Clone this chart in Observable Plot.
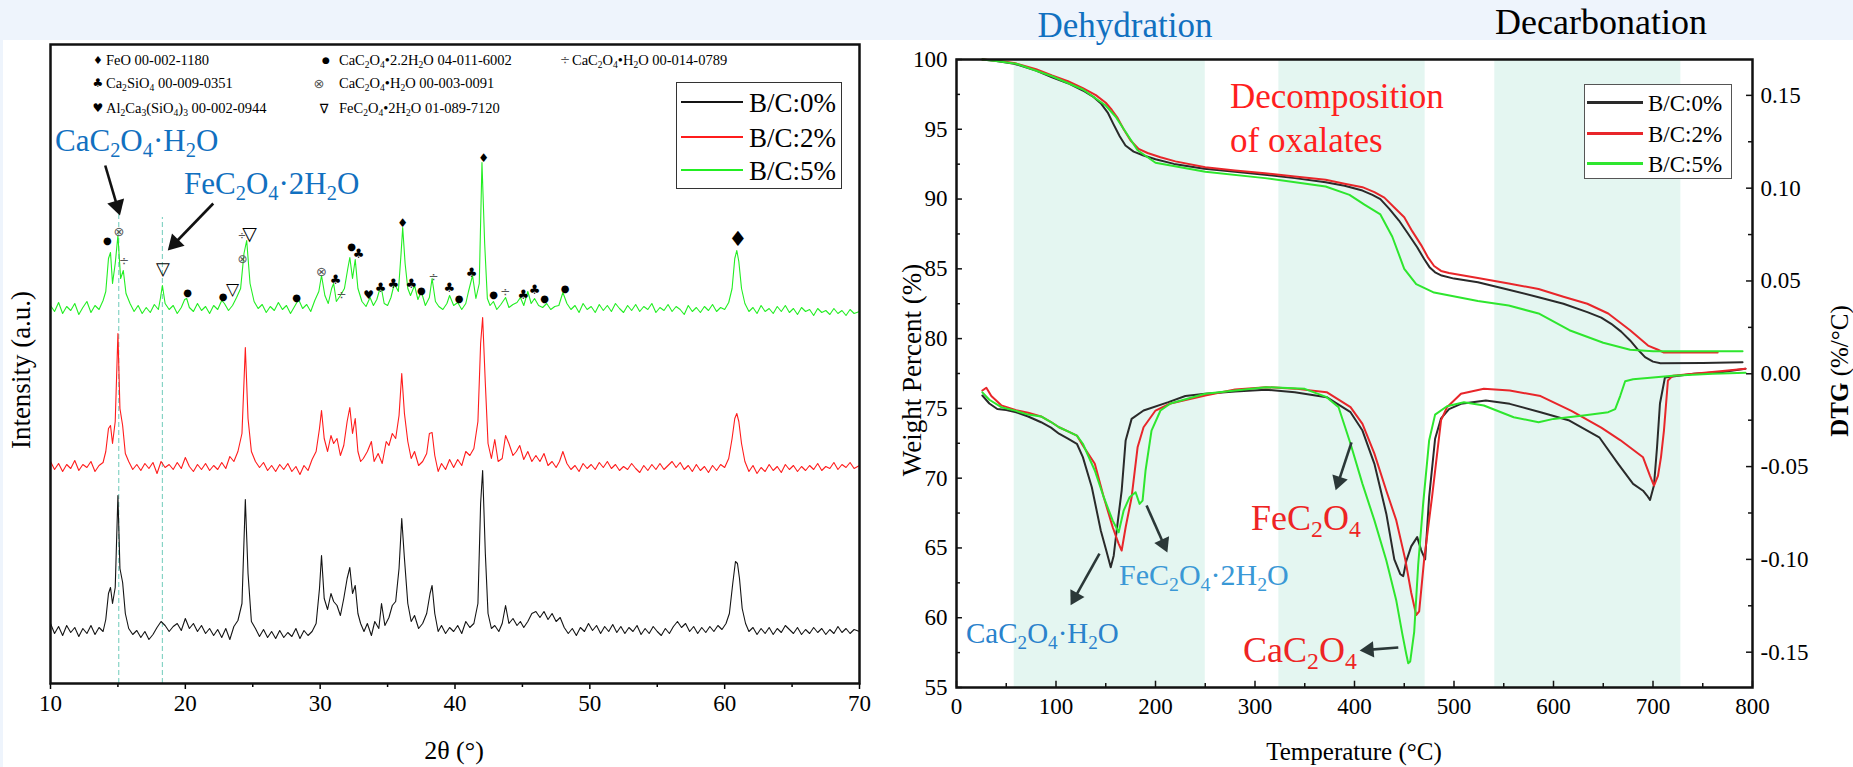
<!DOCTYPE html>
<html><head><meta charset="utf-8">
<script src="https://cdn.jsdelivr.net/npm/d3@7"></script>
<script src="https://cdn.jsdelivr.net/npm/@observablehq/plot@0.6"></script>
<style>
html,body{margin:0;padding:0}
body{width:1853px;height:767px;background:#eef4fc;position:relative;overflow:hidden;font-family:"Liberation Serif","Times New Roman",serif;color:#000}
#paper{position:absolute;left:3px;top:40px;width:1850px;height:727px;background:#fff}
.abs{position:absolute;white-space:nowrap;line-height:1}
sub{font-size:0.66em;vertical-align:baseline;position:relative;top:0.3em;line-height:0}
</style></head><body>
<div id="paper"></div>
<div id="xrd" class="abs" style="left:0;top:0;width:900px;height:767px"></div>
<div id="tga" class="abs" style="left:900px;top:0;width:953px;height:767px"></div>
<div id="over"></div>
<script>
// ---------- series ----------
const series = ["B/C:0%", "B/C:2%", "B/C:5%"];
const xrdColors = ["#141414", "#ff1c1c", "#22ee22"];
const tgaColors = ["#2a2a2a", "#e8262a", "#2ee62e"];

// ---------- XRD (2θ, intensity a.u.) ----------
const xrd5 = [[10.0,378],[10.3,372],[10.6,381],[10.9,370],[11.2,377],[11.5,373],[11.8,380],[12.1,369],[12.4,376],[12.7,382],[13.0,371],[13.3,378],[13.6,374],[13.9,383],[14.1,392],[14.3,425],[14.45,431],[14.6,400],[14.8,420],[15.0,448],[15.2,405],[15.4,413],[15.6,390],[15.9,380],[16.2,372],[16.5,378],[16.8,370],[17.1,376],[17.4,371],[17.7,379],[18.0,374],[18.15,385],[18.3,398],[18.5,380],[18.8,374],[19.1,378],[19.4,370],[19.7,376],[19.95,384],[20.1,385],[20.3,376],[20.6,372],[20.9,380],[21.2,373],[21.5,377],[21.8,370],[22.1,378],[22.4,374],[22.7,383],[22.9,380],[23.2,373],[23.5,378],[23.8,386],[24.1,395],[24.35,430],[24.55,443],[24.8,400],[25.1,382],[25.4,375],[25.7,379],[26.0,371],[26.3,377],[26.6,373],[26.9,381],[27.2,374],[27.5,378],[27.8,370],[28.1,377],[28.4,384],[28.7,375],[29.0,379],[29.3,372],[29.6,383],[29.9,392],[30.1,408],[30.35,388],[30.6,380],[30.85,395],[31.0,400],[31.2,382],[31.5,388],[31.8,395],[32.05,415],[32.2,426],[32.4,405],[32.6,424],[32.8,395],[33.1,382],[33.4,377],[33.7,386],[33.95,378],[34.2,384],[34.5,398],[34.75,380],[35.0,378],[35.25,386],[35.5,400],[35.8,392],[36.0,430],[36.12,456],[36.3,420],[36.5,395],[36.7,388],[37.0,398],[37.25,384],[37.5,392],[37.8,378],[38.1,386],[38.3,405],[38.55,382],[38.8,377],[39.1,374],[39.4,380],[39.6,388],[39.9,378],[40.2,381],[40.5,374],[40.8,380],[41.0,392],[41.3,408],[41.55,385],[41.8,400],[42.0,521],[42.2,440],[42.4,385],[42.6,378],[42.85,382],[43.1,374],[43.4,379],[43.75,386],[44.0,376],[44.3,379],[44.6,381],[44.85,386],[45.1,378],[45.4,392],[45.65,380],[45.9,385],[46.2,378],[46.5,376],[46.8,380],[47.1,374],[47.4,377],[47.7,378],[48.0,391],[48.3,380],[48.6,374],[48.9,378],[49.2,371],[49.5,380],[49.8,374],[50.1,377],[50.4,371],[50.7,379],[51.0,373],[51.3,378],[51.6,372],[51.9,380],[52.2,375],[52.5,371],[52.8,378],[53.1,373],[53.4,379],[53.7,372],[54.0,377],[54.3,374],[54.6,380],[54.9,371],[55.2,376],[55.5,373],[55.8,379],[56.1,372],[56.4,377],[56.7,374],[57.0,369],[57.3,378],[57.6,372],[57.9,376],[58.2,371],[58.5,377],[58.8,373],[59.1,379],[59.4,372],[59.7,376],[60.0,374],[60.3,381],[60.55,395],[60.75,425],[60.9,433],[61.05,422],[61.25,395],[61.5,380],[61.8,372],[62.1,376],[62.4,370],[62.7,378],[63.0,372],[63.3,375],[63.6,370],[63.9,377],[64.2,372],[64.5,378],[64.8,371],[65.1,375],[65.4,369],[65.7,376],[66.0,372],[66.3,374],[66.6,368],[66.9,375],[67.2,371],[67.5,373],[67.8,369],[68.1,375],[68.4,370],[68.7,373],[69.0,368],[69.3,374],[69.6,370],[70.0,372]];
const xrd2 = [[10.0,222],[10.3,214],[10.6,220],[10.9,212],[11.2,219],[11.5,215],[11.8,223],[12.1,213],[12.4,219],[12.7,216],[13.0,222],[13.3,212],[13.6,218],[13.9,221],[14.1,232],[14.3,255],[14.45,258],[14.6,240],[14.8,262],[15.0,350],[15.15,275],[15.35,258],[15.55,230],[15.8,222],[16.1,214],[16.4,219],[16.7,213],[17.0,220],[17.3,215],[17.6,221],[17.9,210],[18.2,222],[18.5,216],[18.8,219],[19.1,214],[19.4,221],[19.7,215],[20.0,226],[20.3,217],[20.6,212],[20.9,219],[21.2,214],[21.5,220],[21.8,213],[22.1,218],[22.4,214],[22.7,221],[23.0,215],[23.3,227],[23.6,222],[23.9,232],[24.2,250],[24.45,336],[24.65,265],[24.9,232],[25.2,222],[25.5,216],[25.8,221],[26.1,213],[26.4,218],[26.7,212],[27.0,219],[27.3,214],[27.6,220],[27.9,212],[28.2,217],[28.5,209],[28.8,218],[29.1,213],[29.4,224],[29.7,232],[29.95,255],[30.1,273],[30.3,245],[30.55,232],[30.8,248],[31.0,240],[31.25,245],[31.5,228],[31.75,238],[32.0,262],[32.2,276],[32.4,250],[32.6,265],[32.8,232],[33.0,222],[33.2,225],[33.5,232],[33.8,242],[34.0,222],[34.3,230],[34.6,220],[34.9,242],[35.1,238],[35.35,250],[35.6,245],[35.85,268],[36.05,310],[36.25,270],[36.5,242],[36.75,225],[37.0,232],[37.3,218],[37.6,222],[37.9,230],[38.1,250],[38.3,251],[38.5,228],[38.75,212],[39.0,220],[39.3,214],[39.6,224],[39.9,216],[40.2,224],[40.5,218],[40.8,232],[41.1,228],[41.4,235],[41.7,262],[41.9,340],[42.05,366],[42.25,300],[42.45,240],[42.7,225],[42.95,244],[43.2,222],[43.5,225],[43.75,248],[44.0,240],[44.3,228],[44.55,232],[44.8,238],[45.1,224],[45.4,232],[45.7,222],[46.0,228],[46.3,222],[46.6,230],[46.9,218],[47.2,222],[47.5,216],[47.75,222],[48.0,232],[48.3,220],[48.6,214],[48.9,218],[49.2,212],[49.5,220],[49.8,215],[50.1,219],[50.4,214],[50.7,221],[51.0,216],[51.3,222],[51.6,215],[51.9,219],[52.2,213],[52.5,217],[52.8,214],[53.1,220],[53.4,215],[53.7,211],[54.0,218],[54.3,213],[54.6,219],[54.9,214],[55.2,220],[55.5,214],[55.8,218],[56.1,222],[56.4,216],[56.7,221],[57.0,214],[57.3,218],[57.6,212],[57.9,219],[58.2,213],[58.5,217],[58.8,211],[59.1,218],[59.4,213],[59.7,219],[60.0,216],[60.3,225],[60.55,245],[60.75,265],[60.9,270],[61.05,262],[61.25,240],[61.5,222],[61.8,212],[62.1,218],[62.4,210],[62.7,216],[63.0,212],[63.3,219],[63.6,213],[63.9,217],[64.2,211],[64.5,219],[64.8,214],[65.1,218],[65.4,212],[65.7,217],[66.0,213],[66.3,218],[66.6,214],[66.9,220],[67.2,213],[67.5,217],[67.8,215],[68.1,221],[68.4,214],[68.7,219],[69.0,216],[69.3,221],[69.6,215],[70.0,218]];
const xrd0 = [[10.0,60],[10.3,50],[10.6,57],[10.9,48],[11.2,58],[11.5,51],[11.8,56],[12.1,47],[12.4,55],[12.7,50],[13.0,58],[13.3,49],[13.6,56],[13.9,52],[14.1,64],[14.3,90],[14.45,96],[14.6,80],[14.8,96],[15.0,188],[15.15,115],[15.35,101],[15.55,70],[15.8,55],[16.1,49],[16.4,53],[16.7,46],[17.0,52],[17.3,44],[17.6,49],[17.9,56],[18.2,62],[18.5,58],[18.8,52],[19.1,57],[19.4,60],[19.7,53],[20.0,65],[20.3,55],[20.6,60],[20.9,52],[21.2,58],[21.5,50],[21.8,55],[22.1,48],[22.4,54],[22.7,46],[23.0,55],[23.3,44],[23.6,57],[23.9,63],[24.2,80],[24.45,184],[24.65,110],[24.9,62],[25.2,55],[25.5,47],[25.8,54],[26.1,46],[26.4,52],[26.7,45],[27.0,53],[27.3,46],[27.6,51],[27.9,47],[28.2,55],[28.5,45],[28.8,53],[29.1,48],[29.4,52],[29.7,60],[29.95,95],[30.1,128],[30.3,85],[30.55,74],[30.8,90],[31.0,82],[31.25,78],[31.5,68],[31.75,85],[32.0,105],[32.2,116],[32.4,90],[32.6,98],[32.8,70],[33.0,60],[33.25,52],[33.5,60],[33.8,48],[34.05,62],[34.35,55],[34.55,80],[34.8,58],[35.1,66],[35.35,78],[35.6,82],[35.85,115],[36.05,165],[36.25,125],[36.5,80],[36.75,62],[37.0,68],[37.3,55],[37.6,60],[37.9,70],[38.15,90],[38.3,98],[38.5,70],[38.75,52],[39.0,58],[39.3,50],[39.6,56],[39.9,52],[40.2,58],[40.5,50],[40.8,62],[41.1,56],[41.4,60],[41.7,80],[41.9,180],[42.05,213],[42.25,130],[42.45,70],[42.7,55],[42.95,58],[43.25,52],[43.5,60],[43.75,78],[44.0,60],[44.3,65],[44.6,58],[44.85,62],[45.1,56],[45.4,62],[45.7,70],[46.0,72],[46.3,66],[46.6,72],[46.9,64],[47.2,70],[47.5,62],[47.8,66],[48.1,56],[48.4,50],[48.7,55],[49.0,48],[49.3,56],[49.6,52],[49.9,60],[50.2,53],[50.5,58],[50.8,50],[51.1,57],[51.4,52],[51.7,59],[52.0,51],[52.3,57],[52.6,50],[52.9,56],[53.2,52],[53.5,58],[53.8,49],[54.1,55],[54.4,50],[54.7,57],[55.0,52],[55.3,48],[55.6,55],[55.9,50],[56.2,57],[56.5,62],[56.8,56],[57.1,60],[57.4,52],[57.7,57],[58.0,50],[58.3,56],[58.6,51],[58.9,57],[59.2,52],[59.5,58],[59.8,54],[60.1,60],[60.35,70],[60.6,100],[60.8,122],[60.95,120],[61.1,105],[61.3,75],[61.55,60],[61.8,52],[62.1,56],[62.4,49],[62.7,55],[63.0,50],[63.3,56],[63.6,49],[63.9,55],[64.2,51],[64.5,58],[64.8,54],[65.1,50],[65.4,56],[65.7,49],[66.0,54],[66.3,50],[66.6,56],[66.9,51],[67.2,55],[67.5,49],[67.8,54],[68.1,50],[68.4,57],[68.7,51],[69.0,55],[69.3,50],[69.6,54],[70.0,52]];

// phase markers above the B/C:5% pattern
const markTheta = [14.22,15.07,15.45,18.33,20.16,22.8,23.5,24.76,24.2,24.24,28.26,30.1,31.14,31.59,32.33,32.85,33.59,34.48,35.42,36.11,36.77,37.5,38.4,39.58,40.3,41.23,42.12,42.87,43.73,45.07,45.91,46.65,48.16,60.98];
const markI     = [443,452,422,414,391,387,394,450,448,424,386,412,404,388,437,430,388,396,400,460,400,393,406,396,385,411,525,389,391,389,394,385,395,444];
const markSym   = ["●","⊗","÷","▽","●","●","▽","▽","÷","⊗","●","⊗","♣","÷","●","♣","♥","♣","♣","♦","♣","●","÷","♣","●","♣","♦","●","÷","♣","♣","●","●","♦"];
const markSize  = [10,13,12,18,10,10,17,19,10,12,10,13,13,12,10,13,12,13,13,12,13,10,12,13,10,13,12,10,12,13,13,10,10,21];

// phase legend
const phaseSym  = ["♦","♣","♥","●","⊗","∇","÷"];
const phaseName = ["FeO 00-002-1180","Ca<sub>2</sub>SiO<sub>4</sub> 00-009-0351","Al<sub>2</sub>Ca<sub>3</sub>(SiO<sub>4</sub>)<sub>3</sub> 00-002-0944","CaC<sub>2</sub>O<sub>4</sub>•2.2H<sub>2</sub>O 04-011-6002","CaC<sub>2</sub>O<sub>4</sub>•H<sub>2</sub>O 00-003-0091","FeC<sub>2</sub>O<sub>4</sub>•2H<sub>2</sub>O 01-089-7120","CaC<sub>2</sub>O<sub>4</sub>•H<sub>2</sub>O 00-014-0789"];

// reference lines and arrows (2θ, intensity)
const guideTheta = [15.06, 18.3];
const guideTop = [476, 466];
const arrowsXrd = [[14.06,518,15.15,468],[22.07,480,18.70,433]];

const xrdTicks = [10,20,30,40,50,60,70];
const xrdMinor = [15,25,35,45,55,65];

// ---------- TGA (temperature °C, weight %) ----------
const tg0 = [[26,100],[40,99.9],[58,99.7],[80,99.2],[96,98.73],[112,98.3],[127,97.78],[138,97.3],[145.5,96.82],[152,96.2],[157.6,95.39],[164,94.5],[169.8,93.84],[178,93.4],[188,93.12],[200,92.85],[218.6,92.52],[249,92.17],[280,91.95],[310,91.74],[340,91.5],[371,91.21],[390,90.95],[408,90.61],[418,90.3],[426,90.0],[435,89.3],[444.7,88.46],[453,87.6],[463,86.55],[470,85.7],[475.4,85.12],[481,84.75],[487.6,84.52],[500,84.3],[524,84.04],[555,83.5],[585,82.97],[610,82.5],[634,81.9],[648,81.5],[658,81.06],[668,80.5],[677,79.87],[685,79.2],[692,78.67],[700,78.35],[707.5,78.24],[750,78.25],[790,78.31]];
const tg2 = [[26,100],[40,99.92],[58,99.75],[80,99.3],[96,98.85],[112,98.45],[127,97.95],[140,97.45],[150,96.9],[156,96.4],[162,95.8],[168,95.0],[175,94.2],[183,93.6],[192,93.3],[205,93.0],[220,92.7],[250,92.28],[280,92.05],[310,91.85],[340,91.62],[371,91.38],[390,91.1],[408,90.85],[420,90.5],[430,90.1],[440,89.4],[450,88.7],[458,87.7],[467,86.7],[474,85.8],[480,85.2],[487,84.85],[495,84.7],[524,84.35],[555,83.95],[585,83.55],[610,83.0],[634,82.5],[655,81.8],[677,80.6],[695,79.5],[705,79.2],[711,79.0],[765,79.0]];
const tg5 = [[26,100],[40,99.9],[60,99.7],[96,98.8],[127,97.85],[150,96.7],[160,95.9],[170,94.8],[182,93.5],[200,92.6],[250,91.95],[310,91.5],[371,90.9],[395,90.3],[410,89.6],[426,88.9],[438,87.3],[450,85.0],[462,83.9],[480,83.3],[524,82.7],[555,82.37],[585,81.8],[616,80.6],[650,79.7],[677,79.2],[700,79.1],[790,79.1]];

// ---------- DTG (temperature °C, %/°C) ----------
const dtg0 = [[26,-0.0117],[33,-0.016],[41,-0.019],[50,-0.0195],[60,-0.0207],[72,-0.023],[85,-0.0261],[95,-0.029],[103,-0.0323],[112,-0.035],[121,-0.0377],[127,-0.0449],[136,-0.0611],[145,-0.0844],[151,-0.0961],[155,-0.1042],[158,-0.098],[161,-0.0844],[166,-0.0629],[170,-0.0359],[176,-0.0243],[188,-0.0198],[213,-0.0153],[230,-0.012],[250,-0.0108],[280,-0.0095],[311,-0.0086],[340,-0.010],[372,-0.0126],[396,-0.0207],[408,-0.0306],[420,-0.0485],[432,-0.0755],[440,-0.100],[446,-0.108],[449,-0.109],[452,-0.101],[457,-0.093],[463,-0.088],[467,-0.095],[471,-0.100],[475,-0.0665],[481,-0.035],[487,-0.024],[495,-0.019],[507,-0.0162],[532,-0.0144],[556,-0.0162],[587,-0.0207],[616,-0.0252],[646,-0.0342],[665,-0.0485],[680,-0.0593],[690,-0.063],[694,-0.0656],[697,-0.068],[701,-0.060],[704,-0.040],[707,-0.016],[712,-0.002],[741,0],[770,0.001],[793,0.0027]];
const dtg2 = [[26,-0.009],[30,-0.0075],[35,-0.012],[45,-0.017],[60,-0.0196],[72,-0.021],[85,-0.023],[95,-0.026],[103,-0.0288],[112,-0.031],[121,-0.0333],[127,-0.0386],[139,-0.0485],[148,-0.0665],[157,-0.0827],[163,-0.0916],[166,-0.0952],[170,-0.0827],[176,-0.0665],[182,-0.0396],[188,-0.0288],[200,-0.0198],[215,-0.016],[250,-0.0117],[280,-0.0085],[311,-0.0072],[340,-0.008],[372,-0.0099],[396,-0.018],[408,-0.027],[420,-0.043],[432,-0.063],[442,-0.079],[451,-0.100],[457,-0.118],[462,-0.130],[465,-0.128],[470,-0.100],[478,-0.066],[487,-0.025],[493,-0.018],[507,-0.0108],[530,-0.0081],[556,-0.009],[587,-0.012],[618,-0.020],[648,-0.029],[667,-0.0357],[690,-0.045],[697,-0.055],[701,-0.0602],[705,-0.055],[708,-0.045],[711,-0.0306],[715,-0.0036],[720,-0.001],[741,0],[770,0.0015],[793,0.0027]];
const dtg5 = [[26,-0.010],[33,-0.014],[45,-0.018],[60,-0.020],[72,-0.022],[85,-0.023],[95,-0.026],[103,-0.0288],[112,-0.031],[121,-0.0333],[127,-0.0377],[139,-0.0521],[148,-0.0665],[157,-0.0791],[163,-0.0854],[168,-0.0737],[174,-0.0665],[180,-0.0638],[184,-0.0701],[187,-0.0683],[190,-0.0521],[196,-0.0306],[205,-0.0198],[215,-0.016],[250,-0.0108],[280,-0.009],[311,-0.0072],[350,-0.0081],[372,-0.0126],[384,-0.018],[396,-0.0377],[408,-0.0593],[420,-0.079],[432,-0.1006],[442,-0.1222],[448,-0.140],[452,-0.151],[454,-0.156],[456,-0.155],[460,-0.139],[464,-0.103],[469,-0.070],[475,-0.036],[481,-0.022],[493,-0.0175],[510,-0.0153],[530,-0.0171],[560,-0.0234],[585,-0.0261],[600,-0.0243],[630,-0.0225],[655,-0.0207],[662,-0.019],[667,-0.012],[672,-0.004],[680,-0.003],[700,-0.002],[720,-0.001],[760,0],[793,0.0005]];

// shaded stages (°C)
const bandStart = [58, 324, 541];
const bandEnd = [250, 471, 728];
// annotation arrows (°C, weight-% axis)
const arrowsTga = [[143.7,64.6,114.6,60.88],[191,68.04,212,64.67],[397,72.56,381,69.12],[444,57.87,405,57.65]];

const tempTicks = [0,100,200,300,400,500,600,700,800];
const tempMinor = [50,150,250,350,450,550,650,750];
const wTicks = [55,60,65,70,75,80,85,90,95,100];
const wMinor = [57.5,62.5,67.5,72.5,77.5,82.5,87.5,92.5,97.5];
const dtgTicks = [0.15,0.10,0.05,0,-0.05,-0.10,-0.15];
const dtgLabels = ["0.15","0.10","0.05","0.00","-0.05","-0.10","-0.15"];
const dtgMinor = [0.125,0.075,0.025,-0.025,-0.075,-0.125];
// right (DTG) axis expressed on the weight-% scale
const dtgZero = 77.48, dtgPerUnit = 133.0;
const toW = v => dtgZero + v * dtgPerUnit;

// ---------- build tables ----------
const rows = (arr, s, f = d => d) => arr.map(([x, y]) => ({x, y: f(y), s}));
const xrdRows = [...rows(xrd0, series[0]), ...rows(xrd2, series[1]), ...rows(xrd5, series[2])];
const markers = markTheta.map((t, i) => ({t, i: markI[i], sym: markSym[i], size: markSize[i], col: (markSym[i] === "⊗" || markSym[i] === "÷") ? "#555555" : "#000000"}));
const guides = guideTheta.map((t, i) => ({t, top: guideTop[i]}));
const bands = bandStart.map((a, i) => ({a, b: bandEnd[i]}));
const dtgW = dtgTicks.map(toW);

// arrows with filled heads: shaft (link) + rotated triangle (dot); kx, ky = pixels per data unit
function arrowParts(list, kx, ky, tipBack, shaftBack) {
  return list.map(([x1, y1, x2, y2]) => {
    const dx = (x2 - x1) * kx, dy = -(y2 - y1) * ky, L = Math.hypot(dx, dy);
    const ux = dx / L, uy = dy / L;
    return {
      x1, y1,
      lx: x2 - shaftBack * ux / kx, ly: y2 + shaftBack * uy / ky,
      hx: x2 - tipBack * ux / kx, hy: y2 + tipBack * uy / ky,
      ang: Math.atan2(ux, -uy) * 180 / Math.PI
    };
  });
}
const xrdArrows = arrowParts(arrowsXrd, 809 / 60, 1, 10, 8);
const tgaArrows = arrowParts(arrowsTga, 796 / 800, 628 / 45, 9.5, 8);

const serif = '"Liberation Serif","Times New Roman",serif';

const xrdPlot = Plot.plot({
  width: 900, height: 767,
  marginLeft: 50, marginRight: 41, marginTop: 44, marginBottom: 84,
  style: {background: "transparent", fontFamily: serif, overflow: "visible"},
  x: {domain: [10, 70]},
  y: {domain: [0, 639], axis: null},
  color: {domain: series, range: xrdColors},
  marks: [
    Plot.ruleX(guides, {x: "t", y1: 0, y2: "top", stroke: "#86d3c5", strokeWidth: 1.2, strokeDasharray: "5,3"}),
    Plot.line(xrdRows, {x: "x", y: "y", z: "s", stroke: "s", strokeWidth: 1.1}),
    Plot.text(markers, {x: "t", y: "i", text: "sym", fontSize: "size", fill: "col", fontFamily: "DejaVu Sans"}),
    Plot.link(xrdArrows, {x1: "x1", y1: "y1", x2: "lx", y2: "ly", stroke: "#111", strokeWidth: 2.6}),
    Plot.dot(xrdArrows, {x: "hx", y: "hy", symbol: "triangle", r: 6.5, fill: "#111", stroke: "none", rotate: "ang"}),
    Plot.axisX({ticks: xrdMinor, tickSize: 4, tickFormat: () => "", label: null, strokeWidth: 1.5}),
    Plot.axisX({ticks: xrdTicks, tickSize: 6, tickPadding: 5, fontSize: 23, label: null, strokeWidth: 1.5, tickFormat: d => String(d)}),
    Plot.frame({stroke: "#111", strokeWidth: 2.5})
  ]
});
document.getElementById("xrd").appendChild(xrdPlot);

const tgaRows = [...rows(tg0, series[0]), ...rows(tg2, series[1]), ...rows(tg5, series[2])];
const dtgRows = [...rows(dtg0, series[0], toW), ...rows(dtg2, series[1], toW), ...rows(dtg5, series[2], toW)];

const tgaPlot = Plot.plot({
  width: 953, height: 767,
  marginLeft: 56, marginRight: 101, marginTop: 59, marginBottom: 80,
  style: {background: "transparent", fontFamily: serif, overflow: "visible"},
  x: {domain: [0, 800]},
  y: {domain: [55, 100]},
  color: {domain: series, range: tgaColors},
  marks: [
    Plot.rect(bands, {x1: "a", x2: "b", y1: 55, y2: 100, fill: "#e4f6f1"}),
    Plot.line(tgaRows, {x: "x", y: "y", z: "s", stroke: "s", strokeWidth: 2}),
    Plot.line(dtgRows, {x: "x", y: "y", z: "s", stroke: "s", strokeWidth: 2}),
    Plot.link(tgaArrows, {x1: "x1", y1: "y1", x2: "lx", y2: "ly", stroke: "#2b3838", strokeWidth: 2.6}),
    Plot.dot(tgaArrows, {x: "hx", y: "hy", symbol: "triangle", r: 6, fill: "#2b3838", stroke: "none", rotate: "ang"}),
    // inward ticks
    Plot.ruleX(tempTicks, {x: d => d, y1: 55, y2: 55.45, stroke: "#111", strokeWidth: 1.5}),
    Plot.ruleX(tempMinor, {x: d => d, y1: 55, y2: 55.28, stroke: "#111", strokeWidth: 1.5}),
    Plot.ruleY(wTicks, {y: d => d, x1: 0, x2: 6, stroke: "#111", strokeWidth: 1.5}),
    Plot.ruleY(wMinor, {y: d => d, x1: 0, x2: 4, stroke: "#111", strokeWidth: 1.5}),
    Plot.ruleY(dtgW, {y: d => d, x1: 794, x2: 800, stroke: "#111", strokeWidth: 1.5}),
    Plot.ruleY(dtgMinor.map(toW), {y: d => d, x1: 796, x2: 800, stroke: "#111", strokeWidth: 1.5}),
    Plot.axisX({ticks: tempTicks, tickSize: 0, tickPadding: 10, fontSize: 23, label: null, tickFormat: d => String(d)}),
    Plot.axisY({ticks: wTicks, tickSize: 0, tickPadding: 9, fontSize: 23, label: null, tickFormat: d => String(d)}),
    Plot.axisY({anchor: "right", ticks: dtgW, tickSize: 0, tickPadding: 8, fontSize: 23, label: null,
      tickFormat: w => { const k = dtgW.findIndex(v => Math.abs(v - w) < 1e-6); return k >= 0 ? dtgLabels[k] : ""; }}),
    Plot.frame({stroke: "#111", strokeWidth: 2.5})
  ]
});
document.getElementById("tga").appendChild(tgaPlot);

// ---------- overlays: legends, titles, annotations ----------
const over = document.getElementById("over");
function put(html, x, y, o = {}) {
  const d = document.createElement("div");
  d.className = "abs";
  d.innerHTML = html;
  d.style.left = x + "px";
  d.style.top = y + "px";
  d.style.fontSize = (o.size || 16) + "px";
  if (o.color) d.style.color = o.color;
  if (o.weight) d.style.fontWeight = o.weight;
  if (o.family) d.style.fontFamily = o.family;
  const ax = o.anchor === "middle" ? "-50%" : o.anchor === "end" ? "-100%" : "0";
  d.style.transform = `translate(${ax},-50%)` + (o.rotate ? ` rotate(${o.rotate}deg)` : "");
  over.appendChild(d);
  return d;
}
function box(x, y, w, h, border) {
  const d = document.createElement("div");
  d.className = "abs";
  Object.assign(d.style, {left: x + "px", top: y + "px", width: w + "px", height: h + "px", border: border, boxSizing: "border-box", background: "#fff"});
  over.appendChild(d);
}
function seg(x, y, w, h, color) {
  const d = document.createElement("div");
  d.className = "abs";
  Object.assign(d.style, {left: x + "px", top: (y - h / 2) + "px", width: w + "px", height: h + "px", background: color});
  over.appendChild(d);
}

// phase legend (left panel)
const phaseSymX = [98, 98, 98, 326, 319, 324, 565];
const phaseTextX = [106, 106, 106, 339, 339, 339, 572];
const phaseY = [60, 83, 108, 60, 83, 108, 60];
const phaseSymSize = [11, 12, 12, 9, 13, 13, 12];
phaseSym.forEach((s, i) => {
  put(s, phaseSymX[i], phaseY[i], {size: phaseSymSize[i], anchor: "middle", family: "DejaVu Sans", color: (s === "÷" || s === "⊗") ? "#555" : "#000"});
  put(phaseName[i], phaseTextX[i], phaseY[i], {size: 14.5});
});

// line legend (left panel)
box(676, 82, 166, 107, "1.5px solid #333");
const legLY = [102, 137, 170];
series.forEach((s, i) => { seg(681, legLY[i], 62, 1.5, xrdColors[i]); put(s, 749, legLY[i] + 1, {size: 27}); });

// line legend (right panel)
box(1584, 84, 148, 95, "1.5px solid #555");
const legRY = [102, 133, 163];
series.forEach((s, i) => { seg(1587, legRY[i], 56, 3, tgaColors[i]); put(s, 1648, legRY[i] + 1, {size: 23}); });

// axis titles
put("Intensity (a.u.)", 21, 370, {size: 27, anchor: "middle", rotate: -90});
put("2θ (°)", 454, 751, {size: 26, anchor: "middle"});
put("Weight Percent (%)", 912, 370, {size: 27, anchor: "middle", rotate: -90});
put("<b>DTG</b> (%/°C)", 1839, 371, {size: 25, anchor: "middle", rotate: -90});
put("Temperature (°C)", 1354, 751, {size: 25, anchor: "middle"});

// annotations, left panel
put("CaC<sub>2</sub>O<sub>4</sub>·H<sub>2</sub>O", 55, 140, {size: 31, color: "#1170c0"});
put("FeC<sub>2</sub>O<sub>4</sub>·2H<sub>2</sub>O", 184, 183, {size: 31, color: "#1170c0"});

// annotations, right panel
put("Dehydration", 1125, 25, {size: 35, anchor: "middle", color: "#1170c0"});
put("Decarbonation", 1601, 22, {size: 36, anchor: "middle"});
put("Decomposition", 1230, 96, {size: 35, color: "#ff1f1f"});
put("of oxalates", 1230, 140, {size: 35, color: "#ff1f1f"});
put("CaC<sub>2</sub>O<sub>4</sub>·H<sub>2</sub>O", 966, 633, {size: 29, color: "#2a82cc"});
put("FeC<sub>2</sub>O<sub>4</sub>·2H<sub>2</sub>O", 1119, 575, {size: 30, color: "#3a98d6"});
put("FeC<sub>2</sub>O<sub>4</sub>", 1251, 518, {size: 36, color: "#ee2424"});
put("CaC<sub>2</sub>O<sub>4</sub>", 1243, 650, {size: 36, color: "#ee2424"});
</script></body></html>
